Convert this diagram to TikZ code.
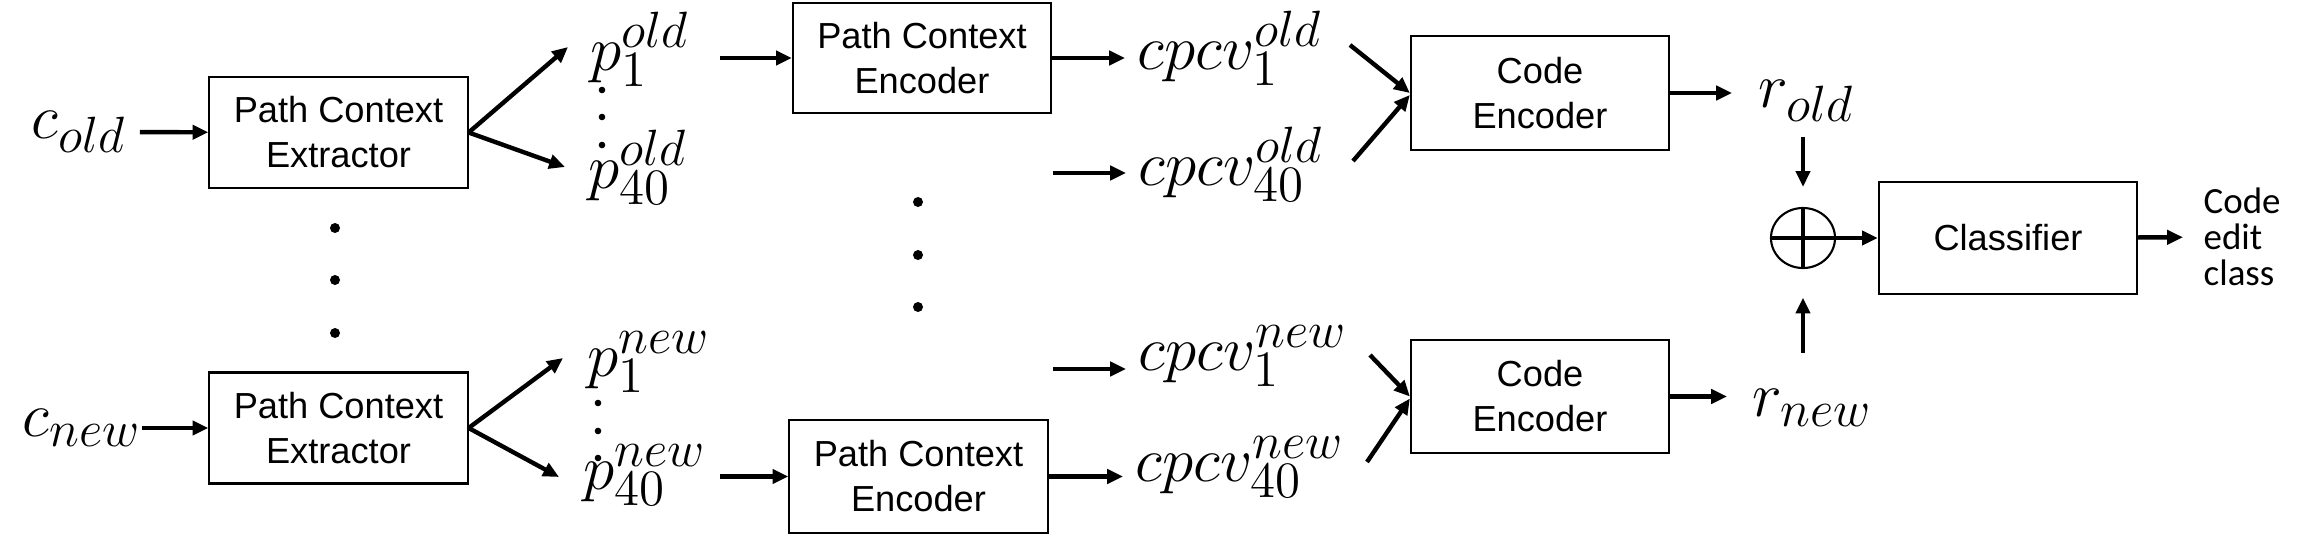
\RequirePackage{fix-cm}
\documentclass[tikz,border=0pt]{standalone}
\usepackage[no-math]{fontspec}
\setmainfont{Liberation Sans}
\newfontfamily\outfont{Carlito}
\DeclareMathSizes{18}{18}{14.5}{10}
\usetikzlibrary{shapes.geometric, arrows.meta, positioning}

\begin{document}
\begin{tikzpicture}[
    x=0.01cm, y=-0.01cm,
    block/.style={draw, line width=0.6pt, rectangle, minimum width=2.58cm, minimum height=1.11cm, align=center, inner sep=1pt, font=\fontsize{10.3}{12.8}\selectfont},
    vec/.style={anchor=west, inner sep=0pt, font=\fontsize{18}{22}\selectfont},
    arrow/.style={-{Triangle[length=4.5pt, width=4pt]}, line width=1.25pt}
]
    \useasboundingbox (0,0) rectangle (2314,545);

    % Code inputs and extractors
    \node[vec] (cold) at (31,132) {$c_{old}$};
    \node[vec] (cnew) at (22,428) {$c_{new}$};
    \node[block] (extold) at (338.5,132.5) {Path Context\\Extractor};
    \node[block] (extnew) at (338.5,428) {Path Context\\Extractor};

    % Path contexts
    \node[vec] (p1old) at (590,49) {$p_1^{old}$};
    \node[vec] (p40old) at (588,167) {$p_{40}^{old}$};
    \node[vec] (p1new) at (587,362) {$p_1^{new}$};
    \node[vec] (p40new) at (583,475) {$p_{40}^{new}$};

    % Path context encoders
    \node[block, minimum height=1.1cm] (pceold) at (922,58) {Path Context\\Encoder};
    \node[block, minimum height=1.13cm] (pcenew) at (918.5,476.5) {Path Context\\Encoder};

    % Encoded path context vectors
    \node[vec] (cpcv1old) at (1137,48) {$cpcv_1^{old}$};
    \node[vec] (cpcv40old) at (1138,164) {$cpcv_{40}^{old}$};
    \node[vec] (cpcv1new) at (1138,356) {$cpcv_1^{new}$};
    \node[vec] (cpcv40new) at (1135,467) {$cpcv_{40}^{new}$};
    \coordinate (in40old) at (1053,173);
    \coordinate (in1new) at (1053,369);

    % Code encoders and classifier
    \node[block, minimum height=1.14cm] (ceold) at (1540,93) {Code\\Encoder};
    \node[block, minimum height=1.13cm] (cenew) at (1540,396.5) {Code\\Encoder};
    \node[vec] (rold) at (1758,101) {$r_{old}$};
    \node[vec] (rnew) at (1752,408) {$r_{new}$};
    \node[draw, ellipse, line width=0.6pt, minimum width=0.64cm, minimum height=0.6cm, inner sep=0pt] (sum) at (1803,238) {};
    \draw[line width=1pt] (sum.north) -- (sum.south) (sum.west) -- (sum.east);
    \node[block, minimum height=1.12cm] (cls) at (2008,238) {Classifier};
    \node[anchor=west, inner sep=0pt, align=left, font=\outfont\fontsize{10.5}{10.3}\selectfont] (out) at (2203,237) {Code\\edit\\class};

    % Dots
    \foreach \y in {228,280,333} \fill (335,\y) circle (5);
    \foreach \y in {202,255,307} \fill (918,\y) circle (5);
    \foreach \y in {90,117,145} \fill (602,\y) circle (3.3);
    \foreach \y in {403,431,458} \fill (598,\y) circle (3.3);

    % Arrows
    \draw[arrow, shorten <=0.13cm] (cold) -- (extold);
    \draw[arrow] (cnew) -- (extnew);
    \draw[arrow] (extold.east) -- ([shift={(-22,-2)}]p1old.west);
    \draw[arrow] (extold.east) -- ([shift={(-23,0)}]p40old.west);
    \draw[arrow] (extnew.east) -- ([shift={(-24,-4)}]p1new.west);
    \draw[arrow] (extnew.east) -- ([shift={(-24,2)}]p40new.west);

    \draw[arrow, shorten <=0.3cm] (p1old.east |- pceold.west) -- (pceold.west);
    \draw[arrow, shorten <=0.13cm] (p40new.east |- pcenew.west) -- (pcenew.west);

    \draw[arrow, shorten >=0.12cm] (pceold) -- (pceold -| cpcv1old.west);
    \draw[arrow, shorten >=0.12cm] (in40old) -- (in40old -| cpcv40old.west);
    \draw[arrow, shorten >=0.12cm] (in1new) -- (in1new -| cpcv1new.west);
    \draw[arrow, shorten >=0.12cm] (pcenew) -- (pcenew -| cpcv40new.west);

    \draw[arrow] ([shift={(213,-3)}]cpcv1old.west) -- (ceold.west);
    \draw[arrow] ([shift={(215,-3)}]cpcv40old.west) -- ([shift={(0,2)}]ceold.west);
    \draw[arrow] ([shift={(232,-1)}]cpcv1new.west) -- (cenew.west);
    \draw[arrow] ([shift={(232,-5)}]cpcv40new.west) -- ([shift={(0,2)}]cenew.west);

    \draw[arrow, shorten >=0.26cm] (ceold) -- (ceold -| rold.west);
    \draw[arrow, shorten >=0.25cm] (cenew) -- (cenew -| rnew.west);
    \draw[arrow, shorten <=0.15cm, shorten >=0.2cm] (rold.south -| sum.north) -- (sum.north);
    \draw[arrow, shorten <=0.36cm, shorten >=0.285cm] (rnew.north -| sum.south) -- (sum.south);
    \draw[arrow] (sum) -- (cls);
    \draw[arrow, shorten >=0.2cm] (cls) -- (out);
\end{tikzpicture}
\end{document}
